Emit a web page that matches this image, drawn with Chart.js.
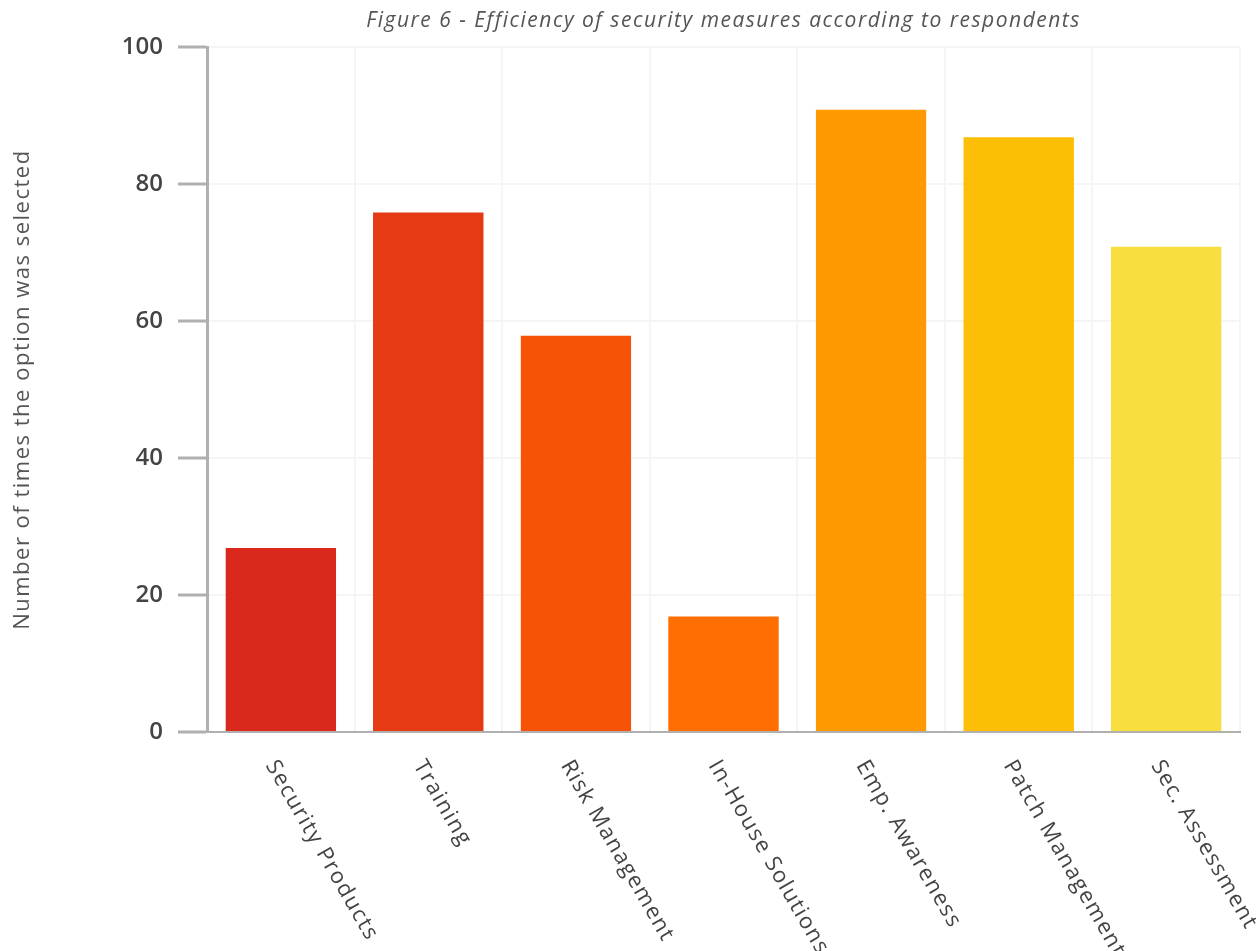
<!DOCTYPE html>
<html>
<head>
<meta charset="utf-8">
<title>Efficiency of security measures</title>
<script src="https://cdn.jsdelivr.net/npm/chart.js@4"></script>
<style>
    html, body { margin: 0; padding: 0; background: #fff; }
    #wrap { width: 1260px; height: 951px; }
</style>
</head>
<body>
<div id="wrap"><canvas id="securityChart"></canvas></div>
<script>
const measures = ['Security Products', 'Training', 'Risk Management', 'In-House Solutions', 'Emp. Awareness', 'Patch Management', 'Sec. Assessment'];
const timesSelected = [27, 76, 58, 17, 91, 87, 71];
const barColors = ['#DA291C', '#E53A13', '#F65307', '#FF6E00', '#FF9900', '#FDBF06', '#F9DE3F'];
const yTicks = [0, 20, 40, 60, 80, 100];

const FONT = "'Open Sans', sans-serif";
const SPACING = '1.5px';

// Wider tracking for the titles; numbers on the y axis stay tight
const textTracking = {
    id: 'textTracking',
    beforeDraw(chart) {
        chart.ctx.letterSpacing = SPACING;
    },
    afterDatasetsDraw(chart) {
        chart.ctx.letterSpacing = '0px';
    }
};

// Category labels run downwards at 60 degrees from each tick
const slantedLabels = {
    id: 'slantedLabels',
    afterDraw(chart) {
        const xScale = chart.scales.x;
        const ctx = chart.ctx;
        ctx.save();
        ctx.letterSpacing = SPACING;
        ctx.font = `22px ${FONT}`;
        ctx.fillStyle = '#444';
        ctx.textAlign = 'left';
        ctx.textBaseline = 'middle';
        xScale.ticks.forEach((tick, i) => {
            const x = xScale.getPixelForTick(i);
            ctx.save();
            ctx.translate(x - 10, xScale.top + 30);
            ctx.rotate(Math.PI / 3);
            ctx.fillText(measures[i], 0, 0);
            ctx.restore();
        });
        ctx.restore();
        ctx.letterSpacing = '0px';
    }
};

document.addEventListener('DOMContentLoaded', () => {
    const ctx = document.getElementById('securityChart').getContext('2d');
    new Chart(ctx, {
        type: 'bar',
        data: {
            labels: measures,
            datasets: [{
                label: 'Times selected',
                data: timesSelected,
                backgroundColor: barColors,
                borderColor: 'rgba(255,255,255,0.45)',
                borderWidth: { top: 1, left: 0, right: 0, bottom: 0 },
                borderSkipped: 'bottom',
                categoryPercentage: 1,
                barPercentage: 0.75
            }]
        },
        options: {
            responsive: true,
            maintainAspectRatio: false,
            animation: false,
            layout: { padding: { right: 20 } },
            plugins: {
                legend: { display: false },
                tooltip: { enabled: false },
                title: {
                    display: true,
                    fullSize: false,
                    text: 'Figure 6 - Efficiency of security measures according to respondents',
                    color: '#555',
                    font: { family: FONT, size: 21, style: 'italic', weight: 'normal' },
                    padding: { top: 8, bottom: 14 }
                }
            },
            scales: {
                x: {
                    grid: {
                        color: '#f5f5f5',
                        lineWidth: 2,
                        drawTicks: false
                    },
                    border: { color: '#b0b0b0', width: 2 },
                    ticks: { display: false },
                    afterFit(scale) { scale.height = 219; }
                },
                y: {
                    min: 0,
                    max: 100,
                    afterBuildTicks(scale) {
                        scale.ticks = yTicks.map(v => ({ value: v }));
                    },
                    grid: {
                        color: '#f5f5f5',
                        lineWidth: 2,
                        tickLength: 29,
                        tickColor: '#b0b0b0',
                        tickWidth: 3
                    },
                    border: { color: '#b0b0b0', width: 3 },
                    ticks: {
                        z: 1,
                        color: '#444',
                        padding: 15,
                        font: { family: FONT, size: 24, weight: 600 }
                    },
                    title: {
                        display: true,
                        text: 'Number of times the option was selected',
                        color: '#555',
                        font: { family: FONT, size: 22, weight: 'normal' },
                        padding: { top: 10, bottom: 0 }
                    },
                    afterFit(scale) { scale.width = 207; }
                }
            }
        },
        plugins: [textTracking, slantedLabels]
    });
});
</script>
</body>
</html>
